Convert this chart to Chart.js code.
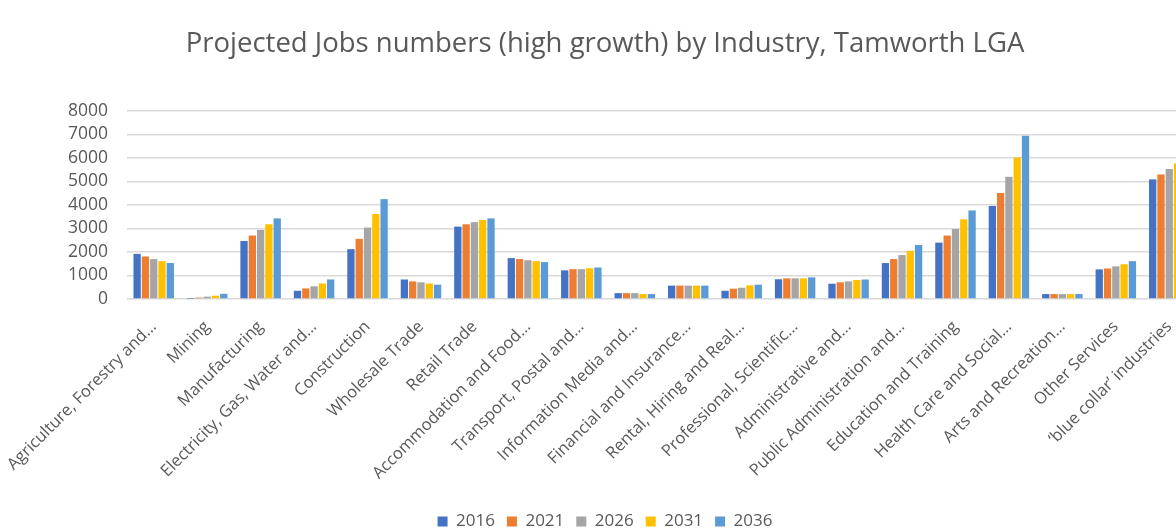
<!DOCTYPE html>
<html>
<head>
<meta charset="utf-8">
<script src="https://cdn.jsdelivr.net/npm/chart.js@4/dist/chart.umd.min.js"></script>
<style>
  html, body { margin: 0; padding: 0; background: #ffffff; overflow: hidden; }
  #wrap { position: relative; width: 1212px; height: 529px; }
</style>
</head>
<body>
<div id="wrap"><canvas id="c"></canvas></div>
<script>
const categories = [
  "Agriculture, Forestry and\u2026",
  "Mining",
  "Manufacturing",
  "Electricity, Gas, Water and\u2026",
  "Construction",
  "Wholesale Trade",
  "Retail Trade",
  "Accommodation and Food\u2026",
  "Transport, Postal and\u2026",
  "Information Media and\u2026",
  "Financial and Insurance\u2026",
  "Rental, Hiring and Real\u2026",
  "Professional, Scientific\u2026",
  "Administrative and\u2026",
  "Public Administration and\u2026",
  "Education and Training",
  "Health Care and Social\u2026",
  "Arts and Recreation\u2026",
  "Other Services",
  "\u2018blue collar\u2019 industries"
];
const years = ["2016", "2021", "2026", "2031", "2036"];
const jobs2016 = [1920, 10, 2470, 350, 2120, 830, 3080, 1740, 1220, 250, 570, 350, 840, 650, 1530, 2400, 3960, 210, 1260, 5090];
const jobs2021 = [1810, 60, 2700, 450, 2560, 750, 3180, 1700, 1270, 250, 570, 440, 880, 710, 1700, 2700, 4510, 210, 1300, 5300];
const jobs2026 = [1700, 100, 2940, 540, 3040, 710, 3270, 1650, 1270, 250, 570, 480, 880, 750, 1870, 2980, 5200, 210, 1390, 5530];
const jobs2031 = [1610, 140, 3180, 660, 3620, 660, 3360, 1610, 1310, 210, 570, 580, 880, 810, 2050, 3390, 6020, 210, 1480, 5770];
const jobs2036 = [1530, 220, 3430, 830, 4250, 610, 3430, 1570, 1340, 210, 570, 610, 920, 830, 2300, 3770, 6950, 210, 1610, 6000];
const seriesValues = [jobs2016, jobs2021, jobs2026, jobs2031, jobs2036];
const colors = ["#4472C4", "#ED7D31", "#A5A5A5", "#FFC000", "#5B9BD5"];
const yTicks = [0, 1000, 2000, 3000, 4000, 5000, 6000, 7000, 8000];

const FONT = "'Open Sans', 'Liberation Sans', sans-serif";
const TXT = "#595959";

new Chart(document.getElementById("c"), {
  type: "bar",
  data: {
    labels: categories,
    datasets: years.map((y, i) => ({
      label: y,
      data: seriesValues[i],
      backgroundColor: colors[i],
      borderWidth: 0,
      categoryPercentage: 0.776,
      barPercentage: 0.88
    }))
  },
  options: {
    responsive: true,
    maintainAspectRatio: false,
    animation: false,
    layout: { padding: { left: 14, right: 16, top: 0, bottom: -11 } },
    plugins: {
      title: {
        display: true,
        text: "Projected Jobs numbers (high growth) by Industry, Tamworth LGA",
        color: TXT,
        font: { family: FONT, size: 27.5, weight: "normal" },
        padding: { top: 28, bottom: 50 }
      },
      legend: {
        position: "bottom",
        labels: {
          color: TXT,
          font: { family: FONT, size: 17 },
          boxWidth: 10,
          boxHeight: 10,
          padding: 12
        }
      },
      tooltip: { enabled: false }
    },
    scales: {
      x: {
        grid: { display: false, drawTicks: false },
        border: { display: false },
        ticks: {
          color: TXT,
          font: { family: FONT, size: 16.5 },
          autoSkip: false,
          minRotation: 45,
          maxRotation: 45,
          padding: 18
        },
        afterFit: (axis) => { axis.height = 202; axis.paddingLeft = 0; axis.paddingRight = 0; }
      },
      y: {
        min: 0,
        max: 8000,
        afterBuildTicks: (axis) => { axis.ticks = yTicks.map(v => ({ value: v })); },
        afterFit: (axis) => { axis.width = 113; },
        grid: { color: "#D9D9D9", lineWidth: 1.5, drawTicks: false },
        border: { display: false },
        ticks: {
          color: TXT,
          font: { family: FONT, size: 17.5 },
          padding: 19,
          autoSkip: false,
          callback: (v) => String(v)
        }
      }
    }
  }
});
</script>
</body>
</html>
